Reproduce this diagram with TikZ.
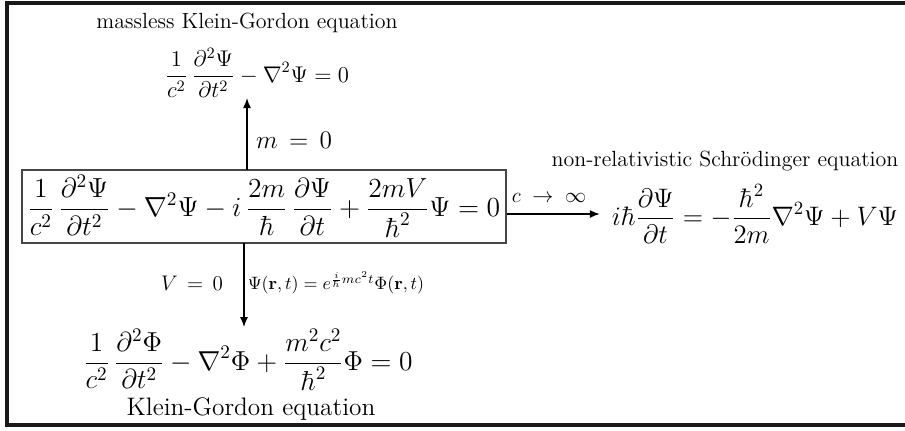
\documentclass[tikz,border=0pt]{standalone}
\usepackage{fix-cm}
\usepackage{amsmath}
\usetikzlibrary{arrows.meta,positioning,calc}
\definecolor{KgBox}{RGB}{70,70,70}
\definecolor{KgFrame}{RGB}{25,25,25}
\tikzset{
  kg/box/.style={
    draw=KgBox,
    line width=0.8pt,
    minimum width=9.68cm,
    minimum height=1.46cm,
    inner sep=0pt,
    font=\fontsize{15.7}{19}\selectfont
  },
  kg/eq/.style={inner sep=1pt, font=\fontsize{15.6}{19}\selectfont},
  kg/rhseq/.style={inner sep=1pt, font=\fontsize{15.2}{18}\selectfont},
  kg/smalleq/.style={inner sep=0pt, font=\fontsize{12.9}{16}\selectfont},
  kg/title/.style={inner sep=1pt, font=\fontsize{12.5}{15}\selectfont},
  kg/bigtitle/.style={inner sep=1pt, font=\Large},
  kg/label/.style={inner sep=1pt, font=\Large},
  kg/midlabel/.style={inner sep=1pt, font=\large},
  kg/tinylabel/.style={inner sep=1pt, font=\fontsize{10.2}{12}\selectfont},
  kg/arrow/.style={-{Latex[length=2mm,width=1.6mm]}, line width=0.8pt},
  kg/frame/.style={line width=1.8pt, draw=KgFrame}
}

\begin{document}
\begin{tikzpicture}[x=1cm,y=1cm]
  \useasboundingbox (0,0) rectangle (18.1,8.6);
  \draw[kg/frame] (18.2,8.54) -- (0.14,8.54) -- (0.14,0.10) -- (18.2,0.10);
  % general equation in the box
  \node[kg/box] (main) at (5.28,4.47)
    {$\displaystyle \frac{1}{c^2}\,\frac{\partial^2\Psi}{\partial t^2}-\nabla^2\Psi-i\,\frac{2m}{\hbar}\,\frac{\partial\Psi}{\partial t}+\frac{2mV}{\hbar^2}\Psi=0$};
  % limits
  \node[kg/smalleq] (massless) at (5.14,7.14)
    {$\displaystyle \frac{1}{c^2}\,\frac{\partial^2\Psi}{\partial t^2}-\nabla^2\Psi=0$};
  \node[kg/title] (masslesstitle) at (4.94,8.14) {massless Klein-Gordon equation};
  \node[kg/rhseq] (schroedinger) at (15.1,4.32)
    {$\displaystyle i\hbar\frac{\partial\Psi}{\partial t}=-\frac{\hbar^2}{2m}\nabla^2\Psi+V\Psi$};
  \node[kg/title] (schroedingertitle) at (14.5,5.38) {non-relativistic Schr\"odinger equation};
  \node[kg/eq] (kleingordon) at (4.96,1.4)
    {$\displaystyle \frac{1}{c^2}\,\frac{\partial^2\Phi}{\partial t^2}-\nabla^2\Phi+\frac{m^2c^2}{\hbar^2}\Phi=0$};
  \node[kg/bigtitle] (kleingordontitle) at (5.02,0.42) {Klein-Gordon equation};
  % connectors
  \coordinate (upfoot) at (4.94,5.2);
  \coordinate (downfoot) at (4.88,3.74);
  \draw[kg/arrow] (upfoot) -- (upfoot |- massless.south);
  \draw[kg/arrow] (downfoot) -- (downfoot |- kleingordon.north);
  \draw[kg/arrow, shorten >=0.2cm] (main.east |- schroedinger) -- (schroedinger.west);
  % labels on the connectors
  \node[kg/label] (mzero) at (5.88,5.8) {$m\,=\,0$};
  \node[kg/midlabel] (climit) at (10.98,4.64) {$c\;\to\;\infty$};
  \node[kg/midlabel] (vzero) at (3.84,2.94) {$V\,=\,0$};
  \node[kg/tinylabel] (phase) at (6.72,2.94) {$\Psi(\mathbf{r},t)=e^{\frac{i}{\hbar}mc^2t}\Phi(\mathbf{r},t)$};
\end{tikzpicture}
\end{document}
